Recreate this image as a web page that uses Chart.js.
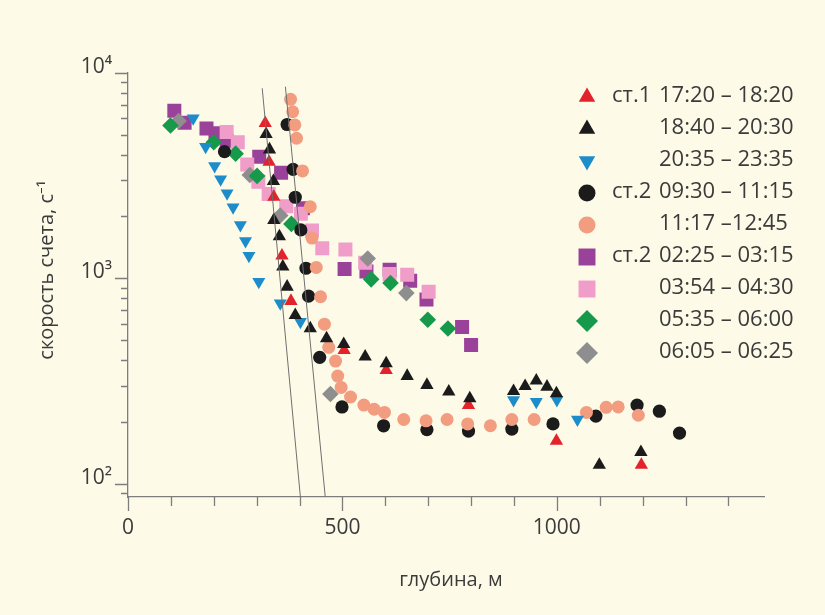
<!DOCTYPE html>
<html lang="ru">
<head>
<meta charset="UTF-8">
<title>Скорость счета по глубине</title>
<script src="https://cdn.jsdelivr.net/npm/chart.js"></script>
<style>
  html, body { margin: 0; padding: 0; background: #fdfbe8; }
  .wrap { width: 825px; height: 615px; }
</style>
</head>
<body>
<div class="wrap"><canvas id="depthChart" width="825" height="615"></canvas></div>
<script>
// depth, m / count rate, 1/s
const redDepth = [320, 329, 340, 359, 380, 504, 602, 794, 999, 1197];
const redRate = [5680, 3680, 2490, 1290, 776, 448, 358, 242, 162, 124];

const blackTriDepth = [322, 330, 339, 340, 353, 361, 371, 390, 425, 463, 503, 553, 602, 651, 697, 748, 797, 899, 926, 952, 977, 999, 1099, 1196];
const blackTriRate = [5030, 4230, 2970, 1920, 1600, 1140, 910, 663, 571, 511, 479, 416, 386, 335, 303, 281, 261, 283, 299, 318, 297, 276, 124, 143];

const blueDepth = [152, 181, 202, 216, 231, 245, 262, 274, 282, 305, 355, 402, 899, 952, 1000, 1048];
const blueRate = [6000, 4370, 3520, 3030, 2590, 2220, 1820, 1520, 1290, 963, 756, 615, 256, 251, 256, 206];

const blackDotDepth = [225, 371, 385, 390, 403, 415, 421, 447, 499, 596, 697, 794, 895, 991, 1091, 1187, 1239, 1286];
const blackDotRate = [4130, 5600, 3390, 2480, 1720, 1120, 820, 413, 237, 192, 184, 181, 185, 196, 214, 242, 226, 177];

const salmonDepth = [379, 384, 389, 393, 407, 425, 429, 439, 449, 458, 468, 484, 489, 497, 519, 550, 574, 598, 643, 695, 744, 792, 845, 895, 947, 1069, 1115, 1143, 1190];
const salmonRate = [7420, 6460, 5570, 4800, 3330, 2230, 1570, 1130, 814, 599, 462, 396, 335, 295, 265, 242, 231, 223, 206, 203, 206, 196, 192, 206, 206, 223, 236, 237, 216];

const purpleDepth = [108, 132, 183, 204, 230, 306, 357, 408, 505, 556, 610, 658, 696, 779, 800];
const purpleRate = [6530, 5710, 5360, 5070, 4670, 3900, 3260, 2190, 1110, 1080, 1100, 973, 790, 580, 474];

const pinkDepth = [230, 256, 278, 304, 328, 369, 403, 429, 453, 507, 553, 610, 651, 701];
const pinkRate = [5150, 4590, 3580, 2950, 2570, 2240, 2060, 1710, 1400, 1380, 1190, 1050, 1040, 861];

const greenDepth = [99, 200, 251, 301, 381, 567, 612, 699, 746];
const greenRate = [5540, 4590, 4040, 3150, 1840, 989, 949, 629, 571];

const grayDepth = [118, 284, 355, 472, 559, 649];
const grayRate = [5820, 3180, 2020, 274, 1250, 848];

// two fitted straight lines (in log scale)
const fitADepth = [313, 402];
const fitARate = [8400, 86.5];
const fitBDepth = [367, 460];
const fitBRate = [8550, 86.5];

const stationLabels = ['ст.1', '', '', 'ст.2', '', 'ст.2', '', '', ''];
const timeLabels = ['17:20 – 18:20', '18:40 – 20:30', '20:35 – 23:35', '09:30 – 11:15', '11:17 –12:45',
                    '02:25 – 03:15', '03:54 – 04:30', '05:35 – 06:00', '06:05 – 06:25'];

const xTickValues = [0, 100, 200, 300, 400, 500, 600, 700, 800, 900, 1000, 1100, 1200, 1300, 1400];
const yTickValues = [90, 100, 200, 300, 400, 500, 600, 700, 800, 900,
                     1000, 2000, 3000, 4000, 5000, 6000, 7000, 8000, 9000, 10000];
const sup = { 2: '²', 3: '³', 4: '⁴' };

const FONT = '"Open Sans", "Noto Sans", sans-serif';
const TEXT = '#3b3b3b';
const AXIS = '#7d7d7d';

const pts = (xs, ys) => xs.map((x, i) => ({ x: x, y: ys[i] }));

function marker(label, xs, ys, color, style, radius, order, rotation) {
  return {
    label: label,
    data: pts(xs, ys),
    backgroundColor: color,
    borderColor: color,
    borderWidth: 0,
    pointStyle: style,
    pointRadius: radius,
    pointRotation: rotation || 0,
    showLine: false,
    order: order
  };
}

const datasets = [
  marker(timeLabels[0], redDepth, redRate, '#e3232b', 'triangle', 7.7, 2),
  marker(timeLabels[1], blackTriDepth, blackTriRate, '#1b1b1b', 'triangle', 7.7, 1),
  marker(timeLabels[2], blueDepth, blueRate, '#1d8ccb', 'triangle', 7.5, 3, 180),
  marker(timeLabels[3], blackDotDepth, blackDotRate, '#1b1b1b', 'circle', 6.6, 5),
  marker(timeLabels[4], salmonDepth, salmonRate, '#f29c80', 'circle', 6.5, 4),
  marker(timeLabels[5], purpleDepth, purpleRate, '#9a4299', 'rect', 9.9, 9),
  marker(timeLabels[6], pinkDepth, pinkRate, '#f09dca', 'rect', 9.9, 8),
  marker(timeLabels[7], greenDepth, greenRate, '#16994a', 'rectRot', 8.3, 6),
  marker(timeLabels[8], grayDepth, grayRate, '#8e8e8e', 'rectRot', 8.3, 7),
  {
    label: 'fitA', data: pts(fitADepth, fitARate), showLine: true,
    borderColor: '#6f6f6f', borderWidth: 1, pointRadius: 0, order: 0
  },
  {
    label: 'fitB', data: pts(fitBDepth, fitBRate), showLine: true,
    borderColor: '#6f6f6f', borderWidth: 1, pointRadius: 0, order: 0
  }
];

const isDecade = v => Math.abs(Math.log10(v) - Math.round(Math.log10(v))) < 1e-9;

// tick marks of two lengths, drawn outside the axes
const tickMarks = {
  id: 'tickMarks',
  afterDraw(chart) {
    const { ctx, chartArea, scales } = chart;
    ctx.save();
    ctx.strokeStyle = AXIS;
    ctx.lineWidth = 1.3;
    ctx.beginPath();
    scales.y.ticks.forEach(t => {
      const py = Math.round(scales.y.getPixelForValue(t.value)) + 0.5;
      const len = isDecade(t.value) ? 13 : 7;
      ctx.moveTo(chartArea.left, py);
      ctx.lineTo(chartArea.left - len, py);
    });
    scales.x.ticks.forEach(t => {
      const px = Math.round(scales.x.getPixelForValue(t.value)) + 0.5;
      const len = t.value % 500 === 0 ? 14 : 9;
      ctx.moveTo(px, chartArea.bottom);
      ctx.lineTo(px, chartArea.bottom + len);
    });
    ctx.stroke();
    ctx.restore();
  }
};

// axis titles and the legend on the right
const annotations = {
  id: 'annotations',
  afterDraw(chart) {
    const ctx = chart.ctx;
    ctx.save();
    ctx.fillStyle = TEXT;
    ctx.font = '20px ' + FONT;
    ctx.textAlign = 'center';
    ctx.textBaseline = 'middle';
    ctx.fillText('глубина, м', 451, 580);

    ctx.save();
    ctx.translate(47, 270);
    ctx.rotate(-Math.PI / 2);
    ctx.fillText('скорость счета, с⁻¹', 0, 0);
    ctx.restore();

    ctx.font = '22px ' + FONT;
    ctx.textAlign = 'left';
    timeLabels.forEach((txt, i) => {
      const ds = chart.data.datasets[i];
      const y = 97 + i * 32;
      ctx.fillStyle = ds.backgroundColor;
      let r = ds.pointStyle === 'circle' ? 8.5 : ds.pointStyle === 'rect' ? 12 : ds.pointStyle === 'rectRot' ? 11 : 9.5;
      Chart.helpers.drawPoint(ctx, { pointStyle: ds.pointStyle, rotation: ds.pointRotation, radius: r, borderWidth: 0 }, 587, y);
      ctx.fillStyle = TEXT;
      if (stationLabels[i]) ctx.fillText(stationLabels[i], 612, y - 1);
      ctx.fillText(txt, 659, y - 1);
    });
    ctx.restore();
  }
};

new Chart(document.getElementById('depthChart'), {
  type: 'scatter',
  data: { datasets: datasets },
  options: {
    responsive: false,
    devicePixelRatio: 1,
    animation: false,
    layout: { padding: { top: 72.7, right: 61, left: 0, bottom: 0 } },
    plugins: { legend: { display: false }, tooltip: { enabled: false } },
    scales: {
      x: {
        type: 'linear',
        min: 0,
        max: 1483,
        afterBuildTicks: s => { s.ticks = xTickValues.map(v => ({ value: v })); },
        afterFit: s => { s.height = 118; },
        grid: { display: false, drawTicks: false },
        border: { color: AXIS, width: 1.3 },
        ticks: {
          autoSkip: false,
          maxRotation: 0,
          padding: 18,
          color: TEXT,
          font: { family: FONT, size: 21 },
          callback: v => (v % 500 === 0 ? String(v) : '')
        }
      },
      y: {
        type: 'logarithmic',
        min: 86.5,
        max: 10000,
        afterBuildTicks: s => { s.ticks = yTickValues.map(v => ({ value: v })); },
        afterFit: s => { s.width = 128; },
        grid: { display: false, drawTicks: false },
        border: { color: AXIS, width: 1.3 },
        ticks: {
          autoSkip: false,
          padding: 16,
          labelOffset: -6,
          color: TEXT,
          font: { family: FONT, size: 21 },
          callback: v => (isDecade(v) ? '10' + sup[Math.round(Math.log10(v))] : '')
        }
      }
    }
  },
  plugins: [tickMarks, annotations]
});
</script>
</body>
</html>
